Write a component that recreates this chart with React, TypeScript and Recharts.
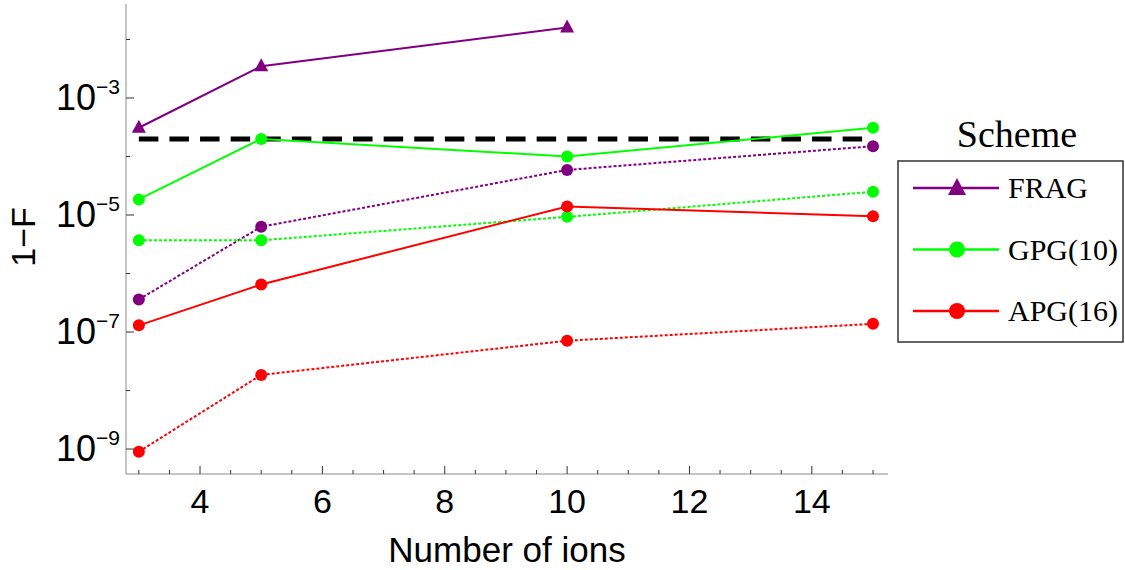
import { Legend, Line, LineChart, XAxis, YAxis } from "recharts";

// number of ions on the x axis
const ions = [3, 5, 10, 15];
const fragIons = [3, 5, 10];

// 1-F values (solid = one case, dotted = the other)
const fragSolid = [3.1e-4, 3.5e-3, 1.6e-2];
const fragDotted = [3.6e-7, 6.3e-6, 5.9e-5, 1.5e-4];
const gpgSolid = [1.85e-5, 2.0e-4, 1.0e-4, 3.1e-4];
const gpgDotted = [3.7e-6, 3.7e-6, 9.3e-6, 2.5e-5];
const apgSolid = [1.3e-7, 6.5e-7, 1.4e-5, 9.5e-6];
const apgDotted = [9e-10, 1.85e-8, 7.1e-8, 1.38e-7];

// dashed threshold line
const thresholdIons = [3, 15];
const thresholdValue = 2e-4;

// ticks
const xTicks = [3, 3.5, 4, 4.5, 5, 5.5, 6, 6.5, 7, 7.5, 8, 8.5, 9, 9.5, 10, 10.5, 11, 11.5, 12, 12.5, 13, 13.5, 14, 14.5, 15];
const xLabelTicks = [4, 6, 8, 10, 12, 14];
const yTicks = [1e-9, 1e-8, 1e-7, 1e-6, 1e-5, 1e-4, 1e-3, 1e-2];
const yLabelExps = [-9, -7, -5, -3];

const legendItems = [
  { name: "FRAG", color: "#800080", shape: "triangle" },
  { name: "GPG(10)", color: "#00ff00", shape: "circle" },
  { name: "APG(16)", color: "#ff0000", shape: "circle" }
];

const PURPLE = "#800080";
const GREEN = "#00ff00";
const RED = "#ff0000";
const SANS = "'Liberation Sans', Arial, sans-serif";
const SERIF = "'Liberation Serif', 'Times New Roman', serif";
const FRAME = "#8a8a8a";
const TICK = "#333";

const toPoints = (xs: number[], ys: number[]) => xs.map((x, i) => ({ x, y: ys[i] }));

const circleDot = (color: string) => (props: any) => (
  <circle key={`c-${props.index}`} cx={props.cx} cy={props.cy} r={6} fill={color} />
);

const triangleDot = (color: string) => (props: any) => {
  const { cx, cy } = props;
  return (
    <polygon
      key={`t-${props.index}`}
      points={`${cx},${cy - 8} ${cx - 7},${cy + 5} ${cx + 7},${cy + 5}`}
      fill={color}
    />
  );
};

const BottomTick = ({ x, y, payload }: any) => {
  const major = xLabelTicks.includes(payload.value);
  return (
    <g>
      <line x1={x} x2={x} y1={y} y2={y - (major ? 8 : 4)} stroke={TICK} />
      {major && (
        <text x={x} y={y + 39} textAnchor="middle" fontSize={34} fontFamily={SANS} fill="#000">
          {payload.value}
        </text>
      )}
    </g>
  );
};

const TopTick = ({ x, y, payload }: any) => {
  const major = xLabelTicks.includes(payload.value);
  return <line x1={x} x2={x} y1={y} y2={y + (major ? 8 : 4)} stroke={TICK} />;
};

const LeftTick = ({ x, y, payload }: any) => {
  const exp = Math.round(Math.log10(payload.value));
  const major = yLabelExps.includes(exp);
  return (
    <g>
      <line x1={x} x2={x + (major ? 8 : 4)} y1={y} y2={y} stroke={TICK} />
      {major && (
        <text x={x - 6} y={y + 12} textAnchor="end" fontFamily={SANS} fill="#000">
          <tspan fontSize={36}>10</tspan>
          <tspan fontSize={21} dy={-16}>{`\u2212${Math.abs(exp)}`}</tspan>
        </text>
      )}
    </g>
  );
};

const RightTick = ({ x, y, payload }: any) => {
  const exp = Math.round(Math.log10(payload.value));
  const major = yLabelExps.includes(exp);
  return <line x1={x} x2={x - (major ? 8 : 4)} y1={y} y2={y} stroke={TICK} />;
};

const SchemeLegend = () => (
  <svg width={245} height={260}>
    <text x={137} y={47} textAnchor="middle" fontSize={38} fontFamily={SERIF} fill="#000">
      Scheme
    </text>
    <rect x={18} y={61} width={225} height={181} fill="#fff" stroke="#333" strokeWidth={1.5} />
    {legendItems.map((item, i) => {
      const cy = 88 + i * 61.5;
      return (
        <g key={item.name}>
          <line x1={33} x2={119} y1={cy} y2={cy} stroke={item.color} strokeWidth={2.5} />
          {item.shape === "triangle" ? (
            <polygon points={`77,${cy - 10} 68,${cy + 7} 86,${cy + 7}`} fill={item.color} />
          ) : (
            <circle cx={77} cy={cy} r={8} fill={item.color} />
          )}
          <text x={128} y={cy + 10} fontSize={30} fontFamily={SERIF} fill="#000">
            {item.name}
          </text>
        </g>
      );
    })}
  </svg>
);

export default function App() {
  return (
    <div style={{ position: "absolute", left: 0, top: 0, width: 1125, height: 570, background: "#fff" }}>
      <LineChart width={1125} height={570} margin={{ top: 4, right: 237, bottom: 0, left: 0 }}>
        <XAxis
          dataKey="x"
          type="number"
          domain={[2.79, 15.245]}
          ticks={xTicks}
          interval={0}
          allowDataOverflow
          height={96}
          tickSize={0}
          tickMargin={0}
          tickLine={false}
          axisLine={{ stroke: FRAME }}
          tick={<BottomTick />}
          label={(props: any) => (
            <text x={507} y={562} textAnchor="middle" fontSize={35} fontFamily={SANS} fill="#000">
              Number of ions
            </text>
          )}
        />
        <XAxis
          xAxisId="top"
          dataKey="x"
          type="number"
          orientation="top"
          domain={[2.79, 15.245]}
          ticks={xTicks}
          interval={0}
          allowDataOverflow
          height={0}
          tickSize={0}
          tickMargin={0}
          tickLine={false}
          axisLine={{ stroke: FRAME }}
          tick={<TopTick />}
        />
        <YAxis
          type="number"
          scale="log"
          domain={[Math.pow(10, -9.427), Math.pow(10, -1.393)]}
          ticks={yTicks}
          interval={0}
          allowDataOverflow
          width={126}
          tickSize={0}
          tickMargin={0}
          tickLine={false}
          axisLine={{ stroke: FRAME }}
          tick={<LeftTick />}
          label={(props: any) => (
            <text
              x={35}
              y={237}
              transform="rotate(-90 35 237)"
              textAnchor="middle"
              fontSize={34}
              fontFamily={SANS}
              fill="#000"
            >
              1−F
            </text>
          )}
        />
        <YAxis
          yAxisId="right"
          orientation="right"
          type="number"
          scale="log"
          domain={[Math.pow(10, -9.427), Math.pow(10, -1.393)]}
          ticks={yTicks}
          interval={0}
          allowDataOverflow
          width={0}
          tickSize={0}
          tickMargin={0}
          tickLine={false}
          axisLine={{ stroke: FRAME }}
          tick={<RightTick />}
        />
        <Legend
          layout="vertical"
          align="center"
          verticalAlign="middle"
          content={<SchemeLegend />}
          wrapperStyle={{ left: 880, top: 100, width: 245, height: 260 }}
        />
        <Line
          data={toPoints(thresholdIons, thresholdIons.map(() => thresholdValue))}
          dataKey="y"
          stroke="#000"
          strokeWidth={5}
          strokeDasharray="19.5 11.1"
          dot={false}
          activeDot={false}
          legendType="none"
          isAnimationActive={false}
        />
        <Line data={toPoints(ions, fragDotted)} dataKey="y" stroke={PURPLE} strokeWidth={2} strokeDasharray="3 2" dot={circleDot(PURPLE)} activeDot={false} isAnimationActive={false} />
        <Line data={toPoints(ions, gpgDotted)} dataKey="y" stroke={GREEN} strokeWidth={2} strokeDasharray="3 2" dot={circleDot(GREEN)} activeDot={false} isAnimationActive={false} />
        <Line data={toPoints(ions, apgDotted)} dataKey="y" stroke={RED} strokeWidth={2} strokeDasharray="3 2" dot={circleDot(RED)} activeDot={false} isAnimationActive={false} />
        <Line data={toPoints(fragIons, fragSolid)} dataKey="y" stroke={PURPLE} strokeWidth={2} dot={triangleDot(PURPLE)} activeDot={false} isAnimationActive={false} />
        <Line data={toPoints(ions, gpgSolid)} dataKey="y" stroke={GREEN} strokeWidth={2} dot={circleDot(GREEN)} activeDot={false} isAnimationActive={false} />
        <Line data={toPoints(ions, apgSolid)} dataKey="y" stroke={RED} strokeWidth={2} dot={circleDot(RED)} activeDot={false} isAnimationActive={false} />
      </LineChart>
    </div>
  );
}
